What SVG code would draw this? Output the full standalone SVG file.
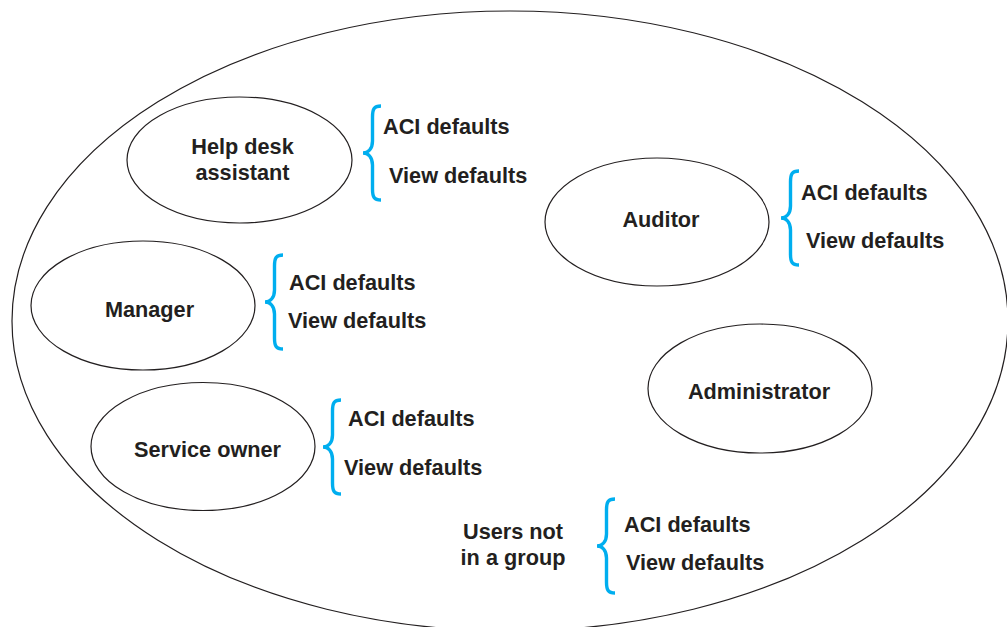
<svg xmlns="http://www.w3.org/2000/svg" xmlns:xlink="http://www.w3.org/1999/xlink" width="1007" height="627" viewBox="0 0 1007 627">
<style>
.ell{fill:none;stroke:#231f20;stroke-width:1.2}
.t{font-family:"Liberation Sans",Arial,Helvetica,sans-serif;font-weight:bold;font-size:21.7px;fill:#231f20}
.c{text-anchor:middle}
.br{fill:none;stroke:#00aeef;stroke-width:3.4;stroke-linecap:butt}
</style>
<defs>
<path id="brace" class="br" d="M 18,-47 C 11,-47 9.5,-44 9.5,-36 L 9.5,-12 C 9.5,-4 5,0 0,0 C 5,0 9.5,4 9.5,12 L 9.5,36 C 9.5,44 11,47 18,47"/>
</defs>
<rect width="1007" height="627" fill="#ffffff"/>
<g id="domain">
<ellipse class="ell" cx="510" cy="321" rx="498" ry="310"/>
</g>
<g id="helpdesk">
<ellipse class="ell" cx="239.5" cy="160" rx="112.5" ry="63"/>
<text class="t c" x="242.5" y="154">Help desk</text>
<text class="t c" x="242.5" y="180">assistant</text>
<use xlink:href="#brace" x="363" y="153"/>
<text class="t" x="383" y="134">ACI defaults</text>
<text class="t" x="389" y="183">View defaults</text>
</g>
<g id="auditor">
<ellipse class="ell" cx="657" cy="222" rx="112" ry="64"/>
<text class="t c" x="661" y="227">Auditor</text>
<use xlink:href="#brace" x="781" y="218"/>
<text class="t" x="801" y="200">ACI defaults</text>
<text class="t" x="806" y="248">View defaults</text>
</g>
<g id="manager">
<ellipse class="ell" cx="143" cy="305.5" rx="112" ry="64.5"/>
<text class="t c" x="149.5" y="317">Manager</text>
<use xlink:href="#brace" x="265" y="302"/>
<text class="t" x="289" y="290">ACI defaults</text>
<text class="t" x="288" y="328">View defaults</text>
</g>
<g id="serviceowner">
<ellipse class="ell" cx="203" cy="446.5" rx="112" ry="64"/>
<text class="t c" x="207.5" y="457">Service owner</text>
<use xlink:href="#brace" x="323" y="447"/>
<text class="t" x="348" y="426">ACI defaults</text>
<text class="t" x="344" y="475">View defaults</text>
</g>
<g id="administrator">
<ellipse class="ell" cx="760" cy="388.5" rx="112" ry="64.5"/>
<text class="t c" x="759" y="399">Administrator</text>
</g>
<g id="nogroup">
<text class="t c" x="513" y="539">Users not</text>
<text class="t c" x="513" y="565">in a group</text>
<use xlink:href="#brace" x="597" y="546"/>
<text class="t" x="624" y="532">ACI defaults</text>
<text class="t" x="626" y="570">View defaults</text>
</g>
<g id="connectors"></g>
</svg>
